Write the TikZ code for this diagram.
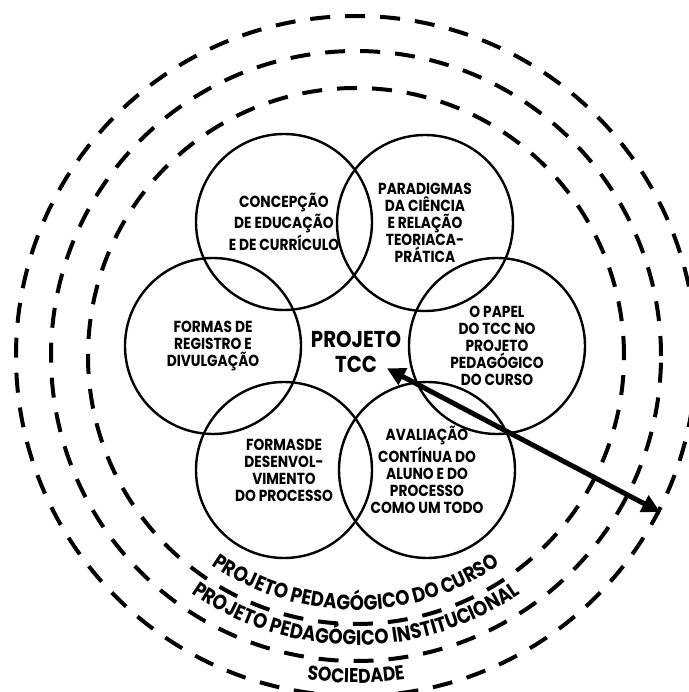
\documentclass[tikz,border=0pt]{standalone}
\usepackage{fontspec}
\setmainfont{Poppins}[FakeStretch=0.86]
\usetikzlibrary{arrows.meta,decorations.text}

\tikzset{
	ring/.style={line width=2pt, dash pattern=on 10pt off 7.5pt},
	bubble/.style={circle, draw, line width=1.2pt, minimum size=88pt, inner sep=0pt, align=center, font=\bfseries\fontsize{8}{8.5}\selectfont},
	hub/.style={align=center, inner sep=0pt, font=\bfseries\fontsize{11.5}{12.5}\selectfont},
	link/.style={line width=2.5pt, {Triangle[length=9pt,width=9pt]}-{Triangle[length=9pt,width=9pt]}},
	arclabel/.style={decorate, decoration={text along path, text align=center, text={#1}}}
}

\begin{document}
\begin{tikzpicture}[x=0.5pt,y=0.5pt]
	\useasboundingbox (0,0) rectangle (689,692);
	\draw[ring] (356,336) circle (268);
	\draw[ring] (356,336) circle (305);
	\draw[ring] (356,336) circle (340);
	\node[bubble] (concepcao) at (284,470) {CONCEPÇÃO\\DE EDUCAÇÃO\\E DE CURRÍCULO};
	\node[bubble] (paradigmas) at (425,469) {PARADIGMAS\\DA CIÊNCIA\\E RELAÇÃO\\TEORIACA-\\PRÁTICA};
	\node[bubble] (registro) at (213,346) {FORMAS DE\\REGISTRO E\\DIVULGAÇÃO};
	\node[bubble] (papel) at (497,346) {O PAPEL\\DO TCC NO\\PROJETO\\PEDAGÓGICO\\DO CURSO};
	\node[bubble] (desenvolvimento) at (284,222) {FORMASDE\\DESENVOL-\\VIMENTO\\DO PROCESSO};
	\node[bubble] (avaliacao) at (427,222) {AVALIAÇÃO\\CONTÍNUA DO\\ALUNO E DO\\PROCESSO\\COMO UM TODO};
	\node[hub] (tcc) at (356,340) {PROJETO\\TCC};
	\coordinate (rim) at (660,180);
	\draw[link, shorten <=17.5pt] (tcc.center) -- (rim);
	\path[arclabel={|\bfseries\fontsize{10.5}{12}\selectfont|PROJETO PEDAGÓGICO DO CURSO}] (356,336) ++(200:254) arc[start angle=200, end angle=340, radius=254];
	\path[arclabel={|\bfseries\fontsize{10.5}{12}\selectfont|PROJETO PEDAGÓGICO INSTITUCIONAL}] (356,336) ++(200:289) arc[start angle=200, end angle=340, radius=289];
	\path[arclabel={|\bfseries\fontsize{10}{12}\selectfont|SOCIEDADE}] (356,336) ++(230:327) arc[start angle=230, end angle=310, radius=327];
\end{tikzpicture}
\end{document}
